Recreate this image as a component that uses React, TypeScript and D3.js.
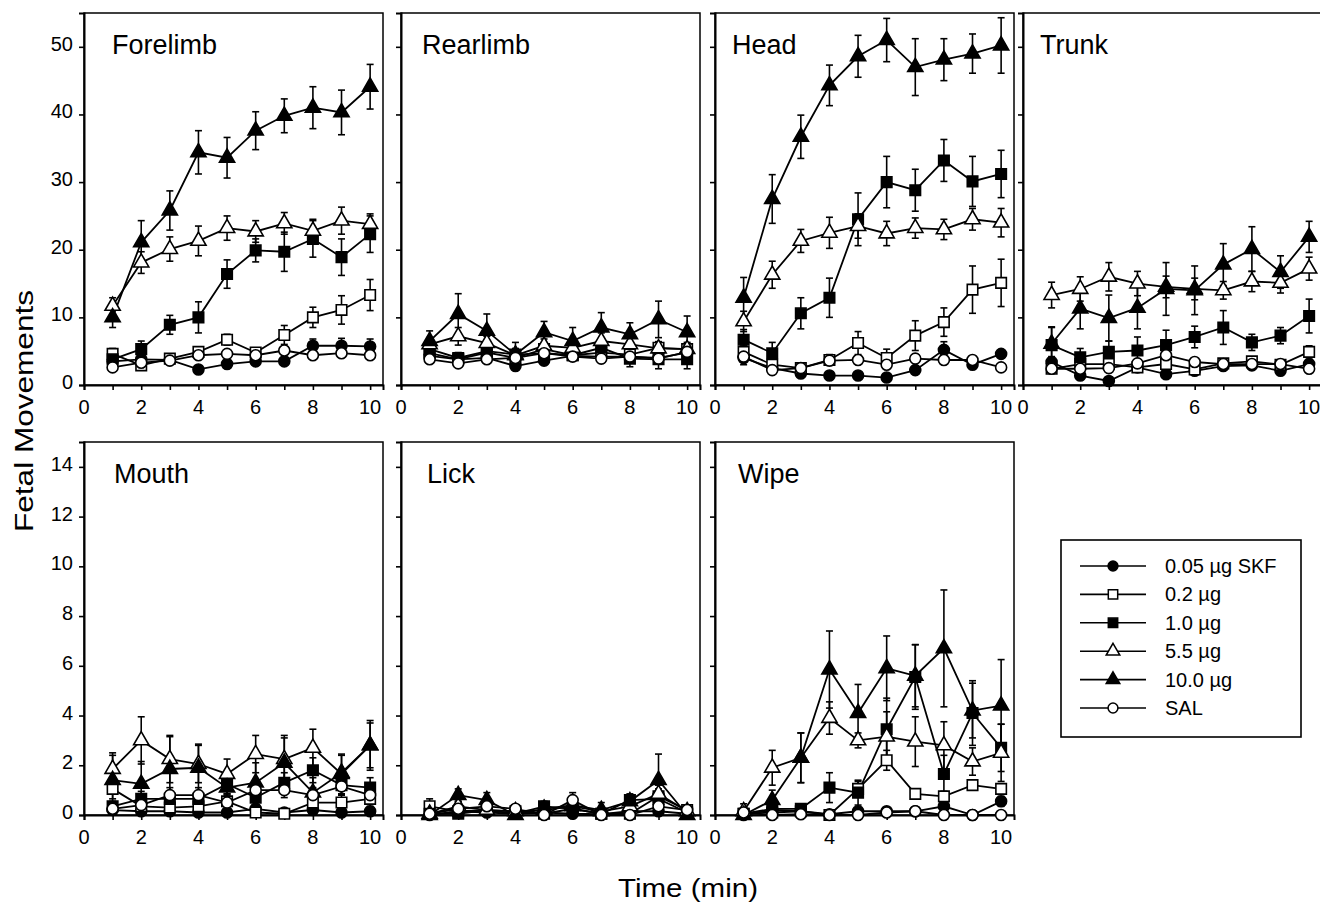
// App.tsx
// fetal movement small multiples, error bars up and down, SigmaPlot look

import React, { useEffect, useRef } from 'react'
import * as d3 from 'd3'

const minutes = [1, 2, 3, 4, 5, 6, 7, 8, 9, 10]
const doseLabels = ['0.05 \u00b5g SKF', '0.2 \u00b5g', '1.0 \u00b5g', '5.5 \u00b5g', '10.0 \u00b5g', 'SAL']
const panelNames = ['Forelimb', 'Rearlimb', 'Head', 'Trunk', 'Mouth', 'Lick', 'Wipe']
const topTicks = [0, 10, 20, 30, 40, 50]
const bottomTicks = [0, 2, 4, 6, 8, 10, 12, 14]
const xLabels = [0, 2, 4, 6, 8, 10]

// series order: 0.05 SKF, 0.2, 1.0, 5.5, 10.0, SAL
const forelimbMeans = [
  [3.5, 3.8, 3.7, 2.3, 3.1, 3.5, 3.5, 5.8, 5.8, 5.7],
  [4.6, 2.9, 3.9, 4.9, 6.7, 4.8, 7.4, 10.0, 11.1, 13.3],
  [3.8, 5.3, 8.9, 10.0, 16.4, 19.9, 19.7, 21.6, 18.9, 22.3],
  [11.7, 18.1, 20.1, 21.3, 23.2, 22.7, 23.9, 22.8, 24.3, 23.8],
  [10.0, 21.1, 25.8, 34.4, 33.6, 37.6, 39.8, 41.0, 40.3, 44.1],
  [2.6, 3.3, 3.6, 4.4, 4.6, 4.4, 5.1, 4.4, 4.7, 4.4]
]
const forelimbErrs = [
  [0.5, 0.5, 0.4, 0.5, 0.6, 0.5, 0.5, 1.0, 1.1, 1.1],
  [0.8, 0.6, 0.5, 0.6, 0.8, 0.6, 1.4, 1.5, 2.1, 2.3],
  [0.8, 1.2, 1.4, 2.3, 2.1, 1.7, 2.9, 2.7, 2.7, 2.7],
  [1.2, 1.6, 1.8, 2.2, 1.8, 1.6, 1.6, 1.7, 2.0, 1.5],
  [1.5, 3.2, 2.9, 3.2, 3.0, 2.8, 2.5, 3.1, 3.3, 3.3],
  [0.5, 0.5, 0.4, 0.5, 0.5, 0.5, 0.6, 0.5, 0.5, 0.5]
]

const rearlimbMeans = [
  [4.3, 3.8, 4.0, 2.8, 3.6, 4.3, 4.2, 4.2, 4.0, 4.8],
  [4.7, 3.8, 4.8, 4.0, 5.3, 4.4, 4.8, 4.5, 5.5, 5.3],
  [5.3, 4.0, 5.0, 4.5, 4.7, 4.4, 5.5, 3.9, 3.8, 3.8],
  [6.0, 7.2, 6.2, 4.4, 5.8, 5.5, 6.5, 6.0, 5.4, 5.3],
  [6.5, 10.5, 8.0, 4.5, 7.8, 6.5, 8.5, 7.5, 9.7, 7.8],
  [3.8, 3.2, 3.8, 4.0, 4.7, 4.2, 3.9, 4.2, 3.9, 4.9]
]
const rearlimbErrs = [
  [0.6, 0.6, 0.6, 0.6, 0.6, 0.6, 0.6, 0.6, 0.7, 0.7],
  [0.7, 0.6, 0.7, 0.7, 0.8, 0.7, 0.8, 0.8, 0.9, 0.8],
  [0.9, 0.8, 0.8, 0.9, 0.8, 0.8, 1.2, 1.2, 1.4, 1.4],
  [1.0, 1.3, 1.0, 0.9, 1.0, 0.9, 1.2, 1.1, 1.0, 1.0],
  [1.5, 3.0, 2.5, 1.8, 1.6, 2.0, 2.2, 1.7, 2.7, 2.4],
  [0.5, 0.5, 0.5, 0.5, 0.6, 0.5, 0.6, 0.5, 0.5, 0.6]
]

const headMeans = [
  [4.0, 2.5, 1.7, 1.4, 1.4, 1.1, 2.2, 5.2, 3.0, 4.6],
  [4.9, 3.0, 2.5, 3.7, 6.2, 4.0, 7.3, 9.3, 14.1, 15.1],
  [6.7, 4.7, 10.6, 12.9, 24.5, 30.0, 28.8, 33.2, 30.1, 31.2],
  [9.4, 16.3, 21.3, 22.5, 23.5, 22.4, 23.2, 23.0, 24.5, 24.0],
  [12.9, 27.5, 36.7, 44.3, 48.6, 51.0, 47.0, 48.1, 49.0, 50.2],
  [4.2, 2.2, 2.5, 3.6, 3.7, 3.0, 3.9, 3.7, 3.7, 2.6]
]
const headErrs = [
  [1.0, 0.5, 0.5, 0.4, 0.4, 0.5, 0.6, 1.2, 0.6, 0.6],
  [1.0, 0.6, 0.6, 0.8, 1.7, 1.3, 2.2, 2.1, 3.5, 3.5],
  [1.5, 1.6, 2.3, 2.9, 3.9, 3.8, 3.1, 3.1, 3.7, 3.5],
  [1.5, 2.0, 1.7, 2.3, 1.8, 1.8, 1.5, 1.5, 1.6, 2.1],
  [3.0, 3.6, 3.2, 3.0, 3.1, 3.2, 4.2, 3.1, 2.9, 4.1],
  [0.6, 0.5, 0.5, 0.6, 0.6, 0.5, 0.6, 0.6, 0.5, 0.5]
]

const trunkMeans = [
  [3.4, 1.4, 0.6, 2.6, 1.6, 2.1, 2.8, 2.9, 2.1, 3.1],
  [2.4, 3.1, 3.1, 2.6, 3.1, 2.3, 3.2, 3.5, 3.0, 4.9],
  [5.9, 4.1, 4.9, 5.1, 5.9, 7.1, 8.5, 6.3, 7.3, 10.2],
  [13.3, 14.2, 16.0, 15.0, 14.5, 14.2, 14.0, 15.3, 15.1, 17.2],
  [6.1, 11.3, 9.9, 11.4, 14.2, 14.0, 17.8, 20.1, 16.7, 21.9],
  [2.4, 2.4, 2.5, 3.2, 4.4, 3.4, 3.1, 3.1, 3.1, 2.4]
]
const trunkErrs = [
  [0.8, 0.6, 0.6, 0.7, 0.5, 0.5, 0.6, 0.6, 0.6, 0.6],
  [0.6, 0.6, 0.6, 0.6, 0.6, 0.5, 0.6, 0.6, 0.6, 0.9],
  [2.6, 1.3, 1.6, 2.0, 2.2, 1.6, 2.5, 1.2, 1.2, 2.5],
  [1.9, 1.8, 2.1, 1.8, 1.6, 1.6, 1.3, 1.5, 1.5, 1.7],
  [2.5, 3.0, 3.4, 3.1, 3.9, 3.6, 3.1, 3.3, 2.4, 2.3],
  [0.5, 0.5, 0.5, 0.6, 0.6, 0.5, 0.5, 0.5, 0.5, 0.5]
]

const mouthMeans = [
  [0.2, 0.15, 0.15, 0.1, 0.1, 0.25, 0.1, 0.2, 0.1, 0.15],
  [1.05, 0.35, 0.3, 0.35, 0.55, 0.1, 0.05, 0.5, 0.5, 0.65],
  [0.35, 0.65, 0.65, 0.65, 1.25, 0.7, 1.3, 1.8, 1.2, 1.1],
  [1.85, 3.0, 2.25, 2.05, 1.65, 2.45, 2.25, 2.7, 1.65, 2.8],
  [1.4, 1.25, 1.85, 1.9, 1.1, 1.3, 2.1, 0.9, 1.7, 2.8],
  [0.25, 0.4, 0.8, 0.8, 0.5, 1.0, 1.0, 0.8, 1.15, 0.8]
]
const mouthErrs = [
  [0.1, 0.1, 0.1, 0.1, 0.1, 0.15, 0.1, 0.1, 0.1, 0.1],
  [0.4, 0.2, 0.2, 0.2, 0.3, 0.1, 0.05, 0.3, 0.3, 0.3],
  [0.2, 0.3, 0.3, 0.3, 0.4, 0.3, 0.4, 0.5, 0.4, 0.4],
  [0.65, 0.95, 0.95, 0.75, 0.6, 0.75, 0.95, 0.75, 0.8, 0.9],
  [1.0, 0.9, 1.3, 0.95, 0.6, 0.8, 1.0, 0.6, 0.7, 1.0],
  [0.15, 0.2, 0.3, 0.3, 0.3, 0.3, 0.3, 0.3, 0.3, 0.3]
]

const lickMeans = [
  [0.0, 0.15, 0.1, 0.05, 0.1, 0.05, 0.03, 0.15, 0.15, 0.05],
  [0.35, 0.15, 0.2, 0.15, 0.05, 0.25, 0.05, 0.05, 0.75, 0.2],
  [0.05, 0.05, 0.2, 0.05, 0.35, 0.25, 0.05, 0.6, 0.65, 0.1],
  [0.05, 0.35, 0.2, 0.15, 0.2, 0.35, 0.15, 0.35, 0.85, 0.15],
  [0.0, 0.8, 0.6, 0.0, 0.25, 0.4, 0.2, 0.55, 1.4, 0.0],
  [0.05, 0.25, 0.35, 0.25, 0.0, 0.6, 0.0, 0.0, 0.35, 0.2]
]
const lickErrs = [
  [0.05, 0.1, 0.1, 0.05, 0.1, 0.1, 0.05, 0.1, 0.1, 0.05],
  [0.3, 0.15, 0.15, 0.1, 0.05, 0.15, 0.05, 0.05, 0.3, 0.1],
  [0.05, 0.05, 0.15, 0.05, 0.2, 0.15, 0.05, 0.25, 0.3, 0.1],
  [0.05, 0.2, 0.15, 0.1, 0.15, 0.2, 0.15, 0.2, 0.35, 0.1],
  [0.0, 0.25, 0.3, 0.05, 0.2, 0.25, 0.3, 0.25, 1.05, 0.05],
  [0.05, 0.15, 0.2, 0.15, 0.05, 0.3, 0.05, 0.05, 0.2, 0.1]
]

const wipeMeans = [
  [0.0, 0.2, 0.15, 0.03, 0.15, 0.15, 0.15, 0.35, 0.0, 0.55],
  [0.05, 0.1, 0.15, 0.0, 1.05, 2.2, 0.85, 0.75, 1.2, 1.05],
  [0.05, 0.25, 0.25, 1.1, 0.9, 3.45, 5.55, 1.65, 4.1, 2.7],
  [0.15, 1.9, 2.3, 3.9, 3.0, 3.15, 2.95, 2.8, 2.15, 2.5],
  [0.0, 0.6, 2.3, 5.85, 4.1, 5.9, 5.6, 6.7, 4.2, 4.4],
  [0.1, 0.0, 0.03, 0.0, 0.0, 0.1, 0.15, 0.0, 0.0, 0.0]
]
const wipeErrs = [
  [0.05, 0.1, 0.1, 0.05, 0.1, 0.1, 0.1, 0.2, 0.05, 0.2],
  [0.05, 0.05, 0.1, 0.05, 0.3, 0.4, 0.2, 0.2, 0.2, 0.2],
  [0.05, 0.15, 0.15, 0.6, 0.5, 1.25, 1.3, 0.75, 1.3, 0.95],
  [0.3, 0.7, 1.0, 0.65, 0.3, 1.0, 1.0, 0.95, 0.55, 1.15],
  [0.1, 0.4, 1.0, 1.55, 1.15, 1.3, 1.25, 2.35, 1.1, 1.85],
  [0.05, 0.05, 0.05, 0.05, 0.05, 0.1, 0.1, 0.05, 0.05, 0.05]
]

const FONT = "'Liberation Sans', Arial, Helvetica, sans-serif"

const markerTypes = [d3.symbolCircle, d3.symbolSquare, d3.symbolSquare, d3.symbolTriangle, d3.symbolTriangle, d3.symbolCircle]
const markerFills = ['black', 'white', 'black', 'white', 'black', 'white']
const markerSizes = [95, 110, 110, 100, 100, 95]

function App () {
  const ref = useRef(null)

  useEffect(() => {
    const svg = d3.select(ref.current)
    svg.selectAll('*').remove()

    const panelLefts = [84, 401, 715, 1023]
    const panelWidth = 299
    const rows = [
      { top: 13, bottom: 385, yMax: 55, ticks: topTicks },
      { top: 442, bottom: 815, yMax: 15, ticks: bottomTicks }
    ]
    const panels = [
      { row: 0, col: 0, titleDx: 28, means: forelimbMeans, errs: forelimbErrs },
      { row: 0, col: 1, titleDx: 21, means: rearlimbMeans, errs: rearlimbErrs },
      { row: 0, col: 2, titleDx: 17, means: headMeans, errs: headErrs },
      { row: 0, col: 3, titleDx: 17, means: trunkMeans, errs: trunkErrs },
      { row: 1, col: 0, titleDx: 30, means: mouthMeans, errs: mouthErrs },
      { row: 1, col: 1, titleDx: 26, means: lickMeans, errs: lickErrs },
      { row: 1, col: 2, titleDx: 23, means: wipeMeans, errs: wipeErrs }
    ]

    panels.forEach((p, pi) => {
      const r = rows[p.row]
      const left = panelLefts[p.col]
      const x = d3.scaleLinear().domain([0, 10.45]).range([left, left + panelWidth])
      const y = d3.scaleLinear().domain([0, r.yMax]).range([r.bottom, r.top])
      const g = svg.append('g')

      // frame
      g.append('rect')
        .attr('x', left)
        .attr('y', r.top)
        .attr('width', panelWidth)
        .attr('height', r.bottom - r.top)
        .attr('fill', 'none')
        .attr('stroke', 'black')
        .attr('stroke-width', 1.5)

      // x axis
      const xAxis = g.append('g')
        .attr('transform', 'translate(0,' + r.bottom + ')')
        .call(d3.axisBottom(x).tickValues(d3.range(0, 11)).tickSize(5).tickFormat(() => ''))
      xAxis.select('.domain').attr('stroke-width', 2)
      xAxis.selectAll('line').attr('stroke-width', 1.6)

      g.selectAll('.xlab')
        .data(xLabels)
        .enter()
        .append('text')
        .attr('x', d => x(d))
        .attr('y', r.bottom + 29)
        .attr('text-anchor', 'middle')
        .attr('font-size', 20)
        .attr('font-family', FONT)
        .text(d => d)

      // y axis
      const yAxis = g.append('g')
        .attr('transform', 'translate(' + left + ',0)')
        .call(d3.axisLeft(y).tickValues(r.ticks).tickSize(5).tickFormat(() => ''))
      yAxis.select('.domain').attr('stroke-width', 2)
      yAxis.selectAll('line').attr('stroke-width', 1.6)

      if (p.col === 0) {
        g.selectAll('.ylab')
          .data(r.ticks)
          .enter()
          .append('text')
          .attr('x', left - 11)
          .attr('y', d => y(d) - 3)
          .attr('dy', '0.35em')
          .attr('text-anchor', 'end')
          .attr('font-size', 20)
          .attr('font-family', FONT)
          .text(d => d)
      }

      // title
      g.append('text')
        .attr('x', left + p.titleDx)
        .attr('y', r.top + 41)
        .attr('font-size', 27)
        .attr('font-family', FONT)
        .text(panelNames[pi])

      const line = d3.line()
        .x((d, i) => x(minutes[i]))
        .y(d => y(d))

      // error bars and lines
      p.means.forEach((vals, si) => {
        const errs = p.errs[si]
        const eb = g.append('g').attr('stroke', 'black').attr('stroke-width', 1.6)
        vals.forEach((v, i) => {
          const e = errs[i]
          if (e <= 0) return
          const cx = x(minutes[i])
          const lo = y(Math.max(0, v - e))
          const hi = y(v + e)
          eb.append('line').attr('x1', cx).attr('x2', cx).attr('y1', lo).attr('y2', hi)
          eb.append('line').attr('x1', cx - 3.5).attr('x2', cx + 3.5).attr('y1', hi).attr('y2', hi)
          eb.append('line').attr('x1', cx - 3.5).attr('x2', cx + 3.5).attr('y1', lo).attr('y2', lo)
        })
        g.append('path')
          .datum(vals)
          .attr('fill', 'none')
          .attr('stroke', 'black')
          .attr('stroke-width', 1.8)
          .attr('d', line)
      })

      // markers
      p.means.forEach((vals, si) => {
        const sym = d3.symbol().type(markerTypes[si]).size(markerSizes[si])
        g.append('g')
          .selectAll('path')
          .data(vals)
          .enter()
          .append('path')
          .attr('transform', (d, i) => 'translate(' + x(minutes[i]) + ',' + y(d) + ')')
          .attr('d', sym)
          .attr('fill', markerFills[si])
          .attr('stroke', 'black')
          .attr('stroke-width', 1.6)
      })
    })

    // legend
    const lg = svg.append('g')
    lg.append('rect')
      .attr('x', 1061)
      .attr('y', 540)
      .attr('width', 240)
      .attr('height', 197)
      .attr('fill', 'white')
      .attr('stroke', 'black')
      .attr('stroke-width', 1.6)
    const ly = d3.scalePoint().domain(doseLabels).range([566, 708])
    doseLabels.forEach((lab, si) => {
      const yy = ly(lab)
      lg.append('line')
        .attr('x1', 1080).attr('x2', 1146)
        .attr('y1', yy).attr('y2', yy)
        .attr('stroke', 'black')
        .attr('stroke-width', 1.6)
      lg.append('path')
        .attr('transform', 'translate(1113,' + yy + ')')
        .attr('d', d3.symbol().type(markerTypes[si]).size(markerSizes[si] * 0.8))
        .attr('fill', markerFills[si])
        .attr('stroke', 'black')
        .attr('stroke-width', 1.5)
      lg.append('text')
        .attr('x', 1165)
        .attr('y', yy)
        .attr('dy', '0.35em')
        .attr('font-size', 20)
        .attr('font-family', FONT)
        .text(lab)
    })

    // axis titles
    svg.append('g')
      .attr('transform', 'translate(33,411)')
      .append('text')
      .attr('transform', 'rotate(-90)')
      .attr('text-anchor', 'middle')
      .attr('font-size', 26)
      .attr('font-family', FONT)
      .attr('textLength', 242)
      .attr('lengthAdjust', 'spacingAndGlyphs')
      .text('Fetal Movements')

    svg.append('text')
      .attr('x', 688)
      .attr('y', 897)
      .attr('text-anchor', 'middle')
      .attr('font-size', 26)
      .attr('font-family', FONT)
      .attr('textLength', 140)
      .attr('lengthAdjust', 'spacingAndGlyphs')
      .text('Time  (min)')
  }, [])

  return (
    <svg
      ref={ref}
      width={1320}
      height={904}
      style={{ position: 'absolute', left: 0, top: 0, background: 'white' }}
    />
  )
}

export default App
